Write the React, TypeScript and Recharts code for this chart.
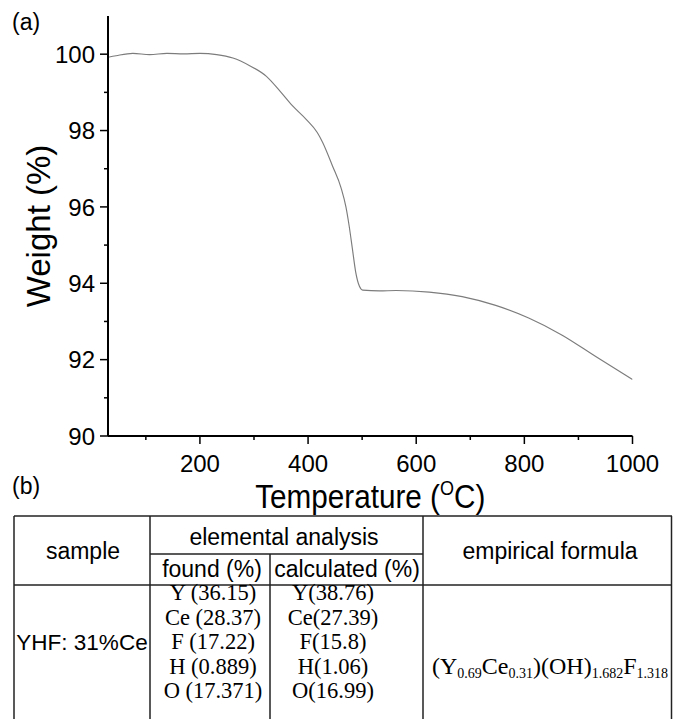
import React from 'react';
import { LineChart, Line, XAxis, YAxis, Label } from 'recharts';

const temperatures = [30, 45, 76, 107, 139, 170, 200, 231, 261, 292, 323, 350, 371, 396, 417, 427, 445, 461, 470, 476, 482, 488, 495, 501, 532, 563, 624, 685, 747, 808, 870, 932, 1000];
const weights = [99.92, 99.96, 100.02, 99.99, 100.02, 100.01, 100.02, 99.99, 99.9, 99.7, 99.42, 99.0, 98.65, 98.3, 97.95, 97.69, 97.08, 96.5, 96.0, 95.5, 94.9, 94.3, 93.92, 93.82, 93.8, 93.81, 93.77, 93.65, 93.42, 93.09, 92.64, 92.08, 91.48];

const xMajorTicks = [200, 400, 600, 800, 1000];
const xMinorTicks = [100, 300, 500, 700, 900];
const yMajorTicks = [90, 92, 94, 96, 98, 100];
const yMinorTicks = [91, 93, 95, 97, 99];

const headerSample = 'sample';
const headerElemental = 'elemental analysis';
const headerFound = 'found (%)';
const headerCalculated = 'calculated (%)';
const headerFormula = 'empirical formula';
const sampleName = 'YHF: 31%Ce';
const foundValues = ['Y (36.15)', 'Ce (28.37)', 'F (17.22)', 'H (0.889)', 'O (17.371)'];
const calculatedValues = ['Y(38.76)', 'Ce(27.39)', 'F(15.8)', 'H(1.06)', 'O(16.99)'];
const formulaMain = ['(Y', 'Ce', ')(OH)', 'F'];
const formulaSub = ['0.69', '0.31', '1.682', '1.318'];

const data = temperatures.map((t, i) => ({ t, w: weights[i] }));
const xTicks = [...xMinorTicks, ...xMajorTicks].sort((a, b) => a - b);
const yTicks = [...yMinorTicks, ...yMajorTicks].sort((a, b) => a - b);

const SANS = '"Liberation Sans", Arial, Helvetica, sans-serif';
const SERIF = '"Liberation Serif", "Times New Roman", serif';

const XTick = (props: any) => {
  const { x, y, payload } = props;
  const major = xMajorTicks.includes(payload.value);
  return (
    <g>
      <line x1={x} x2={x} y1={y} y2={y + (major ? 8 : 4)} stroke="#000" strokeWidth={1.5} />
      {major && (
        <text x={x} y={y + 36} textAnchor="middle" fontFamily={SANS} fontSize={24} fill="#000">
          {payload.value}
        </text>
      )}
    </g>
  );
};

const YTick = (props: any) => {
  const { x, y, payload } = props;
  const major = yMajorTicks.includes(payload.value);
  return (
    <g>
      <line x1={x - (major ? 8 : 4)} x2={x} y1={y} y2={y} stroke="#000" strokeWidth={1.5} />
      {major && (
        <text x={x - 13} y={y} dy="0.36em" textAnchor="end" fontFamily={SANS} fontSize={24} fill="#000">
          {payload.value}
        </text>
      )}
    </g>
  );
};

const TempLabel = (props: any) => {
  const vb = props.viewBox || { x: 108, y: 436, width: 525 };
  const cx = vb.x + vb.width / 2;
  const by = vb.y + 72;
  return (
    <g transform={`translate(${cx},${by}) scale(0.9,1)`}>
      <text x={0} y={0} textAnchor="middle" fontFamily={SANS} fontSize={33} fill="#000">
        Temperature (<tspan fontSize={20} dy={-13}>O</tspan><tspan fontSize={33} dy={13}>C)</tspan>
      </text>
    </g>
  );
};

const WeightLabel = (props: any) => {
  const vb = props.viewBox || { x: 0, y: 16, width: 108, height: 420 };
  const cy = vb.y + vb.height / 2;
  const bx = vb.x + 50;
  return (
    <g transform={`translate(${bx},${cy}) rotate(-90)`}>
      <text x={0} y={0} textAnchor="middle" fontFamily={SANS} fontSize={33} fill="#000">
        Weight (%)
      </text>
    </g>
  );
};

const LINE = '#222';

export default function App() {
  const foundBaselines = [600, 624.5, 649, 673.5, 698];
  return (
    <div style={{ position: 'absolute', left: 0, top: 0, width: 673, height: 719, overflow: 'hidden', background: '#fff' }}>
      <div style={{ position: 'absolute', left: 0, top: 0 }}>
        <LineChart width={673} height={520} data={data} margin={{ top: 16, right: 40.5, bottom: 0, left: 0 }}>
          <XAxis
            dataKey="t"
            type="number"
            domain={[30, 1000]}
            allowDataOverflow
            ticks={xTicks}
            interval={0}
            tickSize={0}
            tickMargin={0}
            tickLine={false}
            height={84}
            axisLine={{ stroke: '#000', strokeWidth: 2 }}
            tick={<XTick />}
            label={<Label content={TempLabel} />}
          />
          <XAxis
            xAxisId="top"
            orientation="top"
            type="number"
            domain={[30, 1000]}
            allowDataOverflow
            height={0}
            tick={false}
            tickLine={false}
            axisLine={{ stroke: '#000', strokeWidth: 1.5 }}
          />
          <YAxis
            type="number"
            domain={[90, 101]}
            allowDataOverflow
            ticks={yTicks}
            interval={0}
            tickSize={0}
            tickMargin={0}
            tickLine={false}
            width={108}
            axisLine={{ stroke: '#000', strokeWidth: 2 }}
            tick={<YTick />}
            label={<Label content={WeightLabel} />}
          />
          <YAxis
            yAxisId="right"
            orientation="right"
            type="number"
            domain={[90, 101]}
            allowDataOverflow
            width={0}
            tick={false}
            tickLine={false}
            axisLine={{ stroke: '#000', strokeWidth: 1.5 }}
          />
          <Line
            dataKey="w"
            type="monotone"
            stroke="#7c7c7c"
            strokeWidth={1.15}
            dot={false}
            activeDot={false}
            isAnimationActive={false}
          />
        </LineChart>
      </div>
      <svg width={673} height={719} style={{ position: 'absolute', left: 0, top: 0, pointerEvents: 'none' }}>
        <text x={12} y={30} fontFamily={SANS} fontSize={23} fill="#000">(a)</text>
        <text x={12} y={494} fontFamily={SANS} fontSize={23} fill="#000">(b)</text>

        <g stroke={LINE} strokeWidth={1.5}>
          <line x1={14} x2={672} y1={516} y2={516} />
          <line x1={150} x2={423} y1={554} y2={554} />
          <line x1={14} x2={672} y1={585} y2={585} />
          <line x1={14} x2={14} y1={516} y2={730} />
          <line x1={150} x2={150} y1={516} y2={730} />
          <line x1={270} x2={270} y1={554} y2={730} />
          <line x1={423} x2={423} y1={516} y2={730} />
          <line x1={671.5} x2={671.5} y1={516} y2={730} />
        </g>

        <g fontFamily={SANS} fontSize={23} fill="#000" textAnchor="middle">
          <text x={83} y={559}>{headerSample}</text>
          <text x={284} y={545}>{headerElemental}</text>
          <text x={212} y={577}>{headerFound}</text>
          <text x={347} y={577}>{headerCalculated}</text>
          <text x={550} y={559}>{headerFormula}</text>
          <text x={82} y={650} fontSize={22.5}>{sampleName}</text>
        </g>

        <g fontFamily={SERIF} fontSize={22.5} fill="#000" textAnchor="middle">
          {foundValues.map((v, i) => (
            <text key={'f' + i} x={213} y={foundBaselines[i]}>{v}</text>
          ))}
          {calculatedValues.map((v, i) => (
            <text key={'c' + i} x={333} y={foundBaselines[i]}>{v}</text>
          ))}
          <text x={550} y={674} fontSize={24}>
            {formulaMain.map((m, i) => (
              <React.Fragment key={'m' + i}>
                <tspan fontSize={24} dy={i === 0 ? 0 : -4}>{m}</tspan>
                <tspan fontSize={14} dy={4}>{formulaSub[i]}</tspan>
              </React.Fragment>
            ))}
          </text>
        </g>
      </svg>
    </div>
  );
}
